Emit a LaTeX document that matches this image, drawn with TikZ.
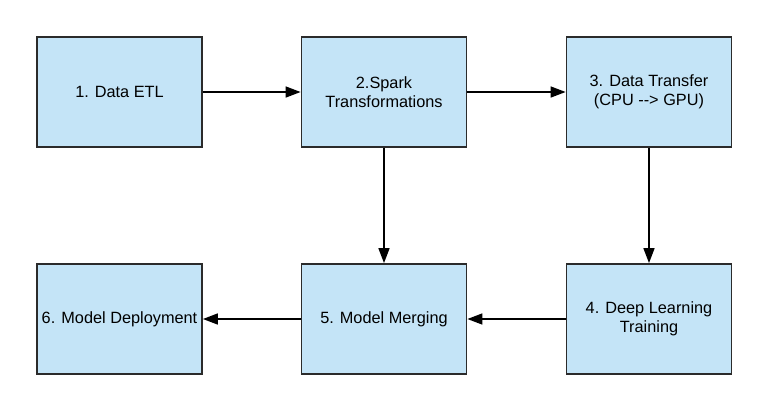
\documentclass[tikz,border=0pt]{standalone}
\usepackage{fontspec}
\setmainfont{Liberation Sans}
\usetikzlibrary{arrows.meta}
\definecolor{boxfill}{HTML}{C4E4F7}
\definecolor{boxline}{HTML}{2B2B2B}
\tikzset{
  stepbox/.style={draw=boxline, fill=boxfill, line width=1.8pt, minimum width=165pt, minimum height=110pt, inner sep=0pt, align=center, font=\fontsize{16.3}{19}\selectfont},
  conn/.style={line width=1.6pt, -{Triangle[length=15pt,width=11pt]}}
}
\begin{document}
\begin{tikzpicture}[x=1pt,y=-1pt]
\useasboundingbox (0,0) rectangle (768,410);
\node[stepbox] (b1) at (119.5,92) {1. Data ETL};
\node[stepbox] (b2) at (384,92) {2.Spark\\Transformations};
\node[stepbox] (b3) at (649,92) {3. Data Transfer\\(CPU -{}-{}> GPU)};
\node[stepbox] (b4) at (649,319) {4. Deep Learning\\Training};
\node[stepbox] (b5) at (384,319) {5. Model Merging};
\node[stepbox] (b6) at (119.5,319) {6. Model Deployment};
\draw[conn] (b1) -- (b2);
\draw[conn] (b2) -- (b3);
\draw[conn] (b2) -- (b5);
\draw[conn] (b3) -- (b4);
\draw[conn] (b4) -- (b5);
\draw[conn] (b5) -- (b6);
\end{tikzpicture}
\end{document}
